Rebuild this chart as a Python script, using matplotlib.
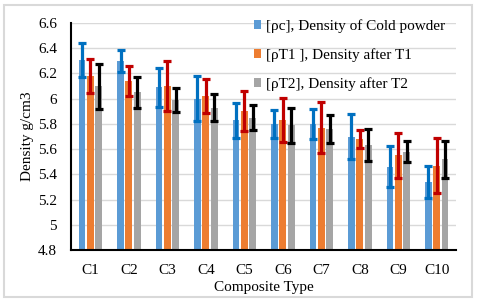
import matplotlib
matplotlib.use("Agg")
import matplotlib.pyplot as plt
import numpy as np
from matplotlib.patches import Rectangle

# values
composites = ['C1', 'C2', 'C3', 'C4', 'C5', 'C6', 'C7', 'C8', 'C9', 'C10']
rho_c = [6.31, 6.30, 6.09, 6.00, 5.83, 5.80, 5.80, 5.70, 5.46, 5.34]
rho_c_err = [0.135, 0.087, 0.156, 0.18, 0.138, 0.112, 0.117, 0.18, 0.163, 0.13]
rho_t1 = [6.18, 6.14, 6.10, 6.02, 5.90, 5.83, 5.77, 5.68, 5.55, 5.47]
rho_t1_err = [0.135, 0.117, 0.20, 0.133, 0.157, 0.176, 0.20, 0.07, 0.178, 0.22]
rho_t2 = [6.10, 6.05, 5.99, 5.93, 5.85, 5.79, 5.76, 5.63, 5.58, 5.52]
rho_t2_err = [0.178, 0.125, 0.095, 0.104, 0.097, 0.14, 0.11, 0.127, 0.083, 0.147]
labels = ['[ρc], Density of Cold powder', '[ρT1 ], Density after T1', '[ρT2], Density after T2']

plt.rcParams['font.family'] = ['Liberation Serif', 'DejaVu Serif']

fig = plt.figure(figsize=(4.8, 3.03), dpi=100)
ax = fig.add_axes([0.148, 0.175, 0.802, 0.749])

x = np.arange(len(composites))
w = 0.18
off = 0.215
series = [(rho_c, rho_c_err, '#5B9BD5', '#0070C0'),
          (rho_t1, rho_t1_err, '#ED7D31', '#C00000'),
          (rho_t2, rho_t2_err, '#A5A5A5', 'black')]

handles = []
for i, (vals, errs, col, ecol) in enumerate(series):
    xs = x + (i - 1) * off
    b = ax.bar(xs, np.array(vals) - 4.8, w, bottom=4.8, color=col, zorder=2)
    ax.errorbar(xs, vals, yerr=errs, fmt='none', ecolor=ecol, elinewidth=2.3,
                capsize=3, capthick=2.3, zorder=3)
    handles.append(b)

ax.set_xlim(-0.5, 9.5)
ax.set_ylim(4.8, 6.6)
ax.set_yticks(np.arange(4.8, 6.61, 0.2))
ax.set_yticklabels(['4.8', '5', '5.2', '5.4', '5.6', '5.8', '6', '6.2', '6.4', '6.6'])
ax.set_xticks(x)
ax.set_xticklabels(composites)
ax.tick_params(axis='x', length=0, labelsize=11, pad=10)
ax.tick_params(axis='y', length=0, labelsize=11, pad=10)
ax.yaxis.grid(True, color='#D9D9D9', linewidth=1, zorder=0)
ax.set_axisbelow(True)
for s in ['top', 'right']:
    ax.spines[s].set_visible(False)
for s in ['left', 'bottom']:
    ax.spines[s].set_linewidth(1.5)
    ax.spines[s].set_color('black')

ax.set_xlabel('Composite Type', fontsize=11, labelpad=3)
ax.set_ylabel('Density g/cm3', fontsize=11, labelpad=3)

ax.legend(handles, labels, loc='upper left', bbox_to_anchor=(0.5, 0.982),
          bbox_transform=fig.transFigure, frameon=False, fontsize=11,
          handlelength=0.5, handleheight=0.5, handletextpad=0.3,
          labelspacing=1.0)

fig.patches.append(Rectangle((4 / 480, 6 / 303), 468 / 480, 292 / 303,
                             transform=fig.transFigure, fill=False,
                             edgecolor='#D9D9D9', linewidth=1.5))

fig.savefig('out.png', dpi=100)
